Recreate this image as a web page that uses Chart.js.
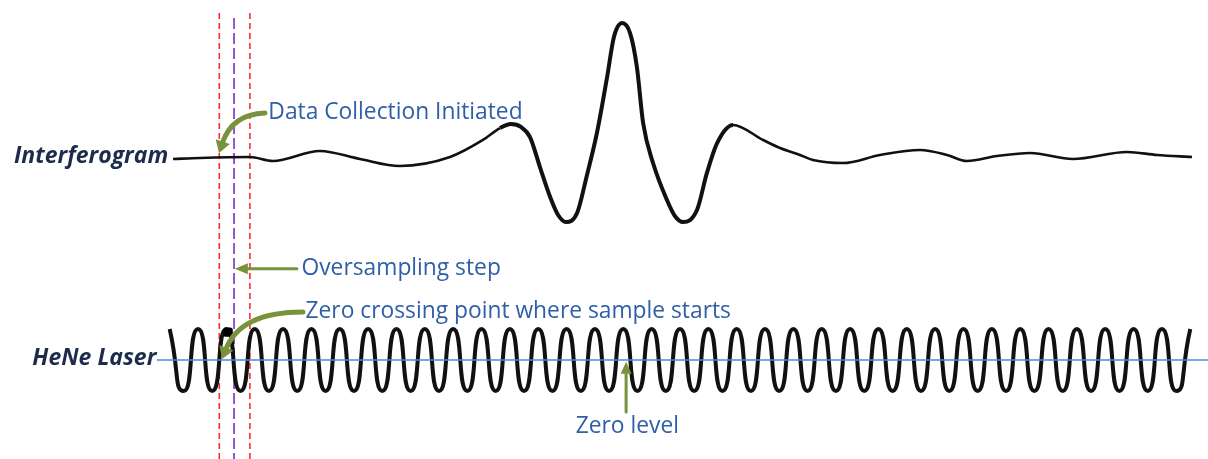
<!DOCTYPE html>
<html>
<head>
<meta charset="utf-8">
<script src="https://cdn.jsdelivr.net/npm/chart.js@4.4.1/dist/chart.umd.min.js"></script>
<style>
  html, body { margin: 0; padding: 0; background: #ffffff; overflow: hidden; }
  canvas { display: block; }
</style>
</head>
<body>
<canvas id="c" width="1208" height="459"></canvas>
<script>
// x axis: optical retardation in HeNe fringe periods; 0 = zero crossing where sampling starts
// Interferogram (relative intensity, centre burst = 1)
const interferogramX = [-1.63, -0.68, 1.08, 1.89, 3.55, 4.96, 6.37, 8.14, 9.30, 9.90,
  10.29, 10.64, 10.96, 11.31, 11.67, 11.95, 12.23, 12.62, 12.97, 13.32,
  13.68, 13.92, 14.21, 14.49, 14.73, 14.95, 15.30, 15.79, 16.07, 16.36,
  16.85, 17.20, 17.56, 18.12, 19.18, 19.78, 20.48, 20.94, 22.00, 23.31,
  24.72, 25.67, 26.37, 27.43, 28.60, 30.11, 32.02, 33.08, 34.31];
const interferogramY = [-0.015, -0.007, 0.000, -0.030, 0.045, -0.015, -0.067, 0.000, 0.127, 0.216,
  0.246, 0.224, 0.149, -0.075, -0.299, -0.433, -0.485, -0.418, -0.134, 0.179,
  0.597, 0.896, 1.000, 0.925, 0.672, 0.254, -0.045, -0.321, -0.440, -0.485,
  -0.396, -0.119, 0.104, 0.239, 0.127, 0.067, 0.015, -0.022, -0.045, 0.015,
  0.052, 0.015, -0.030, 0.007, 0.030, -0.015, 0.037, 0.015, 0.000];

// HeNe reference laser fringes: positions of the crests and troughs
const laserPeakX = [-1.75, -0.75, 0.25, 1.25, 2.25, 3.25, 4.25, 5.25, 6.25, 7.25,
  8.25, 9.25, 10.25, 11.25, 12.25, 13.25, 14.25, 15.25, 16.25, 17.25,
  18.25, 19.25, 20.25, 21.25, 22.25, 23.25, 24.25, 25.25, 26.25, 27.25,
  28.25, 29.25, 30.25, 31.25, 32.25, 33.25, 34.25];
const laserTroughX = [-1.25, -0.25, 0.75, 1.75, 2.75, 3.75, 4.75, 5.75, 6.75, 7.75,
  8.75, 9.75, 10.75, 11.75, 12.75, 13.75, 14.75, 15.75, 16.75, 17.75,
  18.75, 19.75, 20.75, 21.75, 22.75, 23.75, 24.75, 25.75, 26.75, 27.75,
  28.75, 29.75, 30.75, 31.75, 32.75, 33.75];
const laserPeakLevel = 1;
const laserTroughLevel = -1;

// Zero level of the laser signal
const zeroLevelX = [-2.2, 34.9];
const zeroLevelY = [0, 0];

// Sampling markers: start of collection, oversampling step, next sample
const sampleStartX = [0];
const oversampleX = [0.52];
const nextSampleX = [1.08];
const markerSpanY = [11.19, -3.2];
const oversampleSpanY = [11.03, -3.2];

// First sampled crest (drawn heavier)
const firstCrestX = [0.31];
const firstCrestY = [0.9];

// Text
const traceLabels = ['Interferogram', 'HeNe Laser'];
const noteTexts = ['Data Collection Initiated', 'Oversampling step',
  'Zero crossing point where sample starts', 'Zero level'];

// ---- build point tables ----
const toPoints = (xs, ys) => xs.map((x, i) => ({ x, y: ys[i] }));
const laserPoints = laserPeakX.map(x => ({ x, y: laserPeakLevel }))
  .concat(laserTroughX.map(x => ({ x, y: laserTroughLevel })))
  .sort((a, b) => a.x - b.x);
const vLine = (x, span) => [{ x, y: span[0] }, { x, y: span[1] }];

const GREEN = '#77933c';
const NOTE_BLUE = '#2f5fa7';
const LABEL_NAVY = '#1d2b4c';
const NOTE_FONT = '22.8px "Open Sans"';
const LABEL_FONT = 'italic bold 23px "Open Sans"';

// annotation layout (in data units of x / yL / yI)
const notes = {
  labels: [
    { text: traceLabels[0], x: -1.80, y: -0.045, axis: 'yI', align: 'right', font: LABEL_FONT, color: LABEL_NAVY },
    { text: traceLabels[1], x: -2.22, y: -0.16, axis: 'yL', align: 'right', font: LABEL_FONT, color: LABEL_NAVY },
    { text: noteTexts[0], x: 1.73, y: 7.77, axis: 'yL', align: 'left', font: NOTE_FONT, color: NOTE_BLUE },
    { text: noteTexts[1], x: 2.90, y: 2.74, axis: 'yL', align: 'left', font: NOTE_FONT, color: NOTE_BLUE },
    { text: noteTexts[2], x: 3.04, y: 1.35, axis: 'yL', align: 'left', font: NOTE_FONT, color: NOTE_BLUE },
    { text: noteTexts[3], x: 12.57, y: -2.35, axis: 'yL', align: 'left', font: NOTE_FONT, color: NOTE_BLUE }
  ],
  arrows: [
    { from: [1.61, 7.97], ctrl: [0.45, 7.94], to: [-0.01, 6.68], width: 5, headLen: 12, headW: 15 },
    { from: [2.74, 2.94], to: [0.55, 2.94], width: 3, headLen: 13, headW: 11 },
    { from: [2.95, 1.55], ctrl: [0.73, 1.55], to: [0.10, 0.03], width: 5, headLen: 12, headW: 15 },
    { from: [14.35, -1.68], to: [14.35, -0.06], width: 3, headLen: 12, headW: 11 }
  ]
};

const notesPlugin = {
  id: 'notes',
  afterDatasetsDraw(chart) {
    const ctx = chart.ctx;
    const sx = chart.scales.x;
    const px = (p) => [sx.getPixelForValue(p[0]), chart.scales.yL.getPixelForValue(p[1])];
    ctx.save();
    // arrows
    notes.arrows.forEach(a => {
      const s = px(a.from), t = px(a.to);
      const c = a.ctrl ? px(a.ctrl) : s;
      let dx = t[0] - c[0], dy = t[1] - c[1];
      const len = Math.hypot(dx, dy);
      dx /= len; dy /= len;
      const base = [t[0] - dx * a.headLen, t[1] - dy * a.headLen];
      ctx.strokeStyle = GREEN;
      ctx.fillStyle = GREEN;
      ctx.lineWidth = a.width;
      ctx.lineCap = 'round';
      ctx.beginPath();
      ctx.moveTo(s[0], s[1]);
      if (a.ctrl) {
        ctx.quadraticCurveTo(c[0], c[1], base[0] + dx * 2, base[1] + dy * 2);
      } else {
        ctx.lineTo(base[0] + dx * 2, base[1] + dy * 2);
      }
      ctx.stroke();
      const nx = -dy, ny = dx;
      ctx.beginPath();
      ctx.moveTo(t[0], t[1]);
      ctx.lineTo(base[0] + nx * a.headW / 2, base[1] + ny * a.headW / 2);
      ctx.lineTo(base[0] - nx * a.headW / 2, base[1] - ny * a.headW / 2);
      ctx.closePath();
      ctx.fill();
    });
    // text
    ctx.textBaseline = 'alphabetic';
    notes.labels.forEach(l => {
      ctx.font = l.font;
      ctx.fillStyle = l.color;
      ctx.textAlign = l.align;
      ctx.fillText(l.text, sx.getPixelForValue(l.x), chart.scales[l.axis].getPixelForValue(l.y));
    });
    ctx.restore();
  }
};

const markerDataset = (xs, span, color, dash) => ({
  data: vLine(xs[0], span),
  yAxisID: 'yL',
  borderColor: color,
  borderWidth: 1.6,
  borderDash: dash,
  pointRadius: 0,
  tension: 0
});

function draw() {
  new Chart(document.getElementById('c'), {
    type: 'line',
    data: {
      datasets: [
        {
          label: 'Zero level',
          data: toPoints(zeroLevelX, zeroLevelY),
          yAxisID: 'yL',
          borderColor: '#4a88e0',
          borderWidth: 1.3,
          pointRadius: 0
        },
        {
          label: 'First sampled crest',
          data: toPoints(firstCrestX, firstCrestY),
          yAxisID: 'yL',
          showLine: false,
          pointStyle: 'rectRounded',
          pointRadius: 5.5,
          backgroundColor: '#000000',
          borderColor: '#000000',
          borderWidth: 0
        },
        {
          label: traceLabels[1],
          data: laserPoints,
          yAxisID: 'yL',
          borderColor: '#111111',
          borderWidth: 4,
          pointRadius: 0,
          tension: 0.7
        },
        {
          label: traceLabels[0],
          data: toPoints(interferogramX, interferogramY),
          yAxisID: 'yI',
          borderColor: '#111111',
          borderWidth: 3,
          pointRadius: 0,
          cubicInterpolationMode: 'monotone',
          segment: {
            borderWidth: (c) => (c.p0.parsed.x > 9.5 && c.p1.parsed.x < 18.5) ? 4 : 2.6
          }
        },
        markerDataset(oversampleX, oversampleSpanY, '#7a2fc4', [11, 4]),
        markerDataset(sampleStartX, markerSpanY, '#ff2b2b', [6, 4]),
        markerDataset(nextSampleX, markerSpanY, '#ff2b2b', [6, 4])
      ]
    },
    options: {
      responsive: false,
      animation: false,
      devicePixelRatio: 1,
      layout: { padding: 0, autoPadding: false },
      plugins: { legend: { display: false }, tooltip: { enabled: false } },
      scales: {
        x: { type: 'linear', min: -7.735, max: 34.875, display: false },
        yI: { type: 'linear', min: -2.2537, max: 1.1716, display: false },
        yL: { type: 'linear', min: -3.1935, max: 11.6129, display: false }
      }
    },
    plugins: [notesPlugin]
  });
}

if (document.fonts && document.fonts.load) {
  Promise.all([
    document.fonts.load(NOTE_FONT),
    document.fonts.load(LABEL_FONT)
  ]).then(draw, draw);
} else {
  draw();
}
</script>
</body>
</html>
